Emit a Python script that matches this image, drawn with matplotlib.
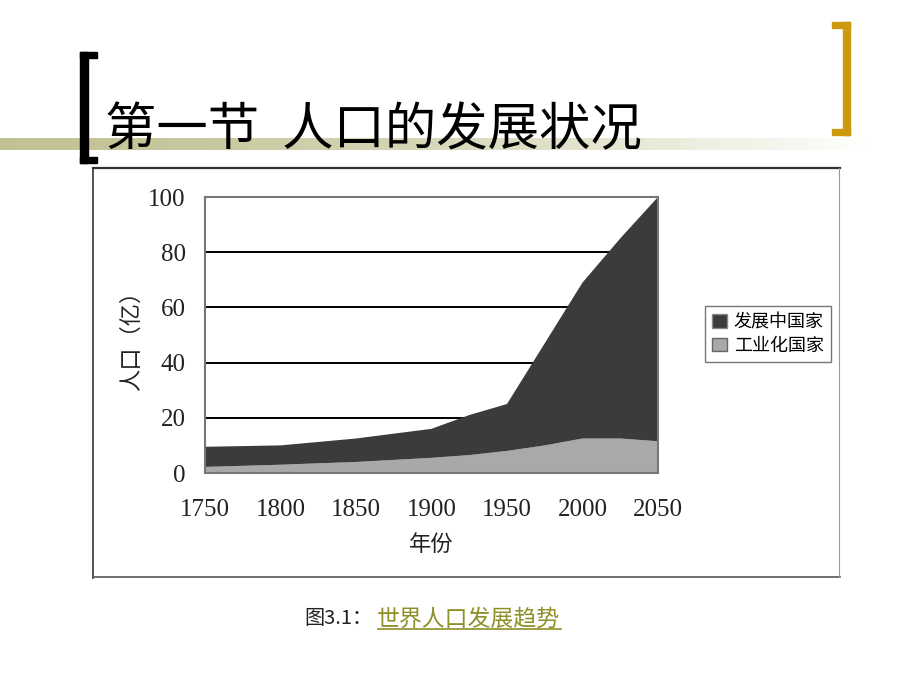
import numpy as np
import matplotlib
matplotlib.use("Agg")
import matplotlib.pyplot as plt
from matplotlib.patches import Rectangle

plt.rcParams['font.family'] = ['Noto Sans CJK SC', 'DejaVu Sans']

# ── Data (亿人) ──────────────────────────────────────────────────────────────
years       = [1750, 1800, 1850, 1900, 1925, 1950, 1975, 2000, 2025, 2050]
industrial  = [2.2, 3.0, 4.0, 5.5, 6.5, 8.0, 10.0, 12.5, 12.5, 11.5]
developing  = [7.3, 7.0, 8.5, 10.5, 14.5, 17.0, 37.0, 56.5, 72.5, 88.5]
y_ticks     = [0, 20, 40, 60, 80, 100]
x_ticks     = [1750, 1800, 1850, 1900, 1950, 2000, 2050]
series_names = ["发展中国家", "工业化国家"]

TITLE   = "第一节  人口的发展状况"
CAPTION = "图3.1："
CAPLINK = "世界人口发展趋势"

W, H = 920, 690
fig = plt.figure(figsize=(W / 100, H / 100), dpi=100)

# ── Slide decoration in pixel coords ─────────────────────────────────────────
bg = fig.add_axes([0, 0, 1, 1], zorder=0)
bg.set_xlim(0, W); bg.set_ylim(H, 0); bg.axis("off")

grad = np.linspace(0, 1, 256) ** 1.5
c0 = np.array([0.76, 0.76, 0.58]); c1 = np.array([1.0, 1.0, 1.0])
band = (c0[None, :] * (1 - grad[:, None]) + c1[None, :] * grad[:, None])[None, :, :]
bg.imshow(band, extent=(0, 870, 150, 138), aspect="auto", zorder=1)

# black bracket left
for r in [(80, 52, 8, 111), (80, 52, 17, 6), (80, 157, 17, 6)]:
    bg.add_patch(Rectangle((r[0], r[1]), r[2], r[3], color="black", zorder=3))
# gold bracket right
for r in [(843, 22, 7, 113), (832, 22, 18, 6), (832, 129, 18, 6)]:
    bg.add_patch(Rectangle((r[0], r[1]), r[2], r[3], color="#cc9a0e", zorder=3))

bg.text(105, 145, TITLE, fontsize=37, color="black", va="baseline", ha="left", zorder=4)

# frame around picture
bg.plot([93, 840], [168, 168], color="#333333", lw=1.6, zorder=2)
bg.plot([93, 93], [168, 578], color="#333333", lw=1.2, zorder=2)
bg.plot([93, 840], [577, 577], color="#555555", lw=1.2, zorder=2)
bg.plot([839, 839], [168, 577], color="#999999", lw=0.8, zorder=2)

bg.text(304, 619, CAPTION, fontsize=14.5, color="#222222", va="center", ha="left", zorder=4)
bg.text(377, 619, CAPLINK, fontsize=16.5, color="#8f8f2a", va="center", ha="left", zorder=4)
bg.plot([378, 561], [629, 629], color="#8f8f2a", lw=1.2, zorder=4)

# ── Chart ────────────────────────────────────────────────────────────────────
ax = fig.add_axes([205 / W, 1 - 473 / H, 453 / W, 276 / H], zorder=2)
ax.set_facecolor("white")
for yv in y_ticks[1:-1]:
    ax.axhline(yv, color="black", lw=1.4, zorder=1)
ax.stackplot(years, industrial, developing, colors=["#a9a9a9", "#3b3b3b"], zorder=2,
             edgecolor="none")
ax.set_xlim(1750, 2050)
ax.set_ylim(0, 100)
ax.set_xticks(x_ticks)
ax.set_yticks(y_ticks)
ax.tick_params(length=0, labelsize=18)
ax.tick_params(axis="x", pad=19)
ax.tick_params(axis="y", pad=14)
for lab in ax.get_xticklabels() + ax.get_yticklabels():
    lab.set_family("Liberation Serif")
    lab.set_color("#222222")
for s in ax.spines.values():
    s.set_color("#777777"); s.set_linewidth(1.5)

ax.set_xlabel("年份", fontsize=16, labelpad=8, color="#222222")
ax.set_ylabel("人口（亿）", fontsize=16, labelpad=4, color="#222222")

handles = [Rectangle((0, 0), 1, 1, facecolor="#3b3b3b", edgecolor="#888888"),
           Rectangle((0, 0), 1, 1, facecolor="#a9a9a9", edgecolor="#666666")]
fig.legend(handles, series_names, loc="center", bbox_to_anchor=(768 / W, 1 - 334 / H),
           fontsize=13, frameon=True, fancybox=False, edgecolor="#555555",
           handlelength=0.8, handleheight=0.8, handletextpad=0.4, borderpad=0.4,
           labelspacing=0.3, borderaxespad=0)

fig.savefig("out.png", dpi=100)
